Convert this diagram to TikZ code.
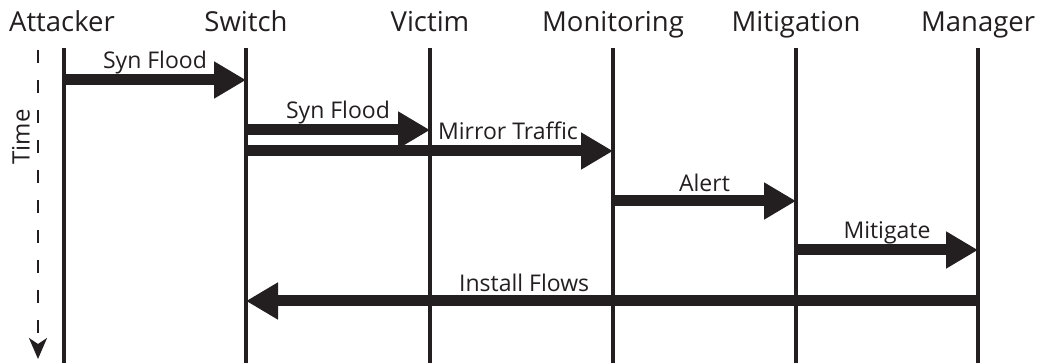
\documentclass[tikz,border=0pt]{standalone}
\usepackage{fontspec}
\setmainfont{Open Sans}
\usetikzlibrary{arrows.meta}
\definecolor{ink}{HTML}{231F20}
\begin{document}
\begin{tikzpicture}[x=1pt,y=-1pt,
  hdr/.style={font=\fontsize{27.5}{32}\selectfont, text=ink, inner sep=0pt, anchor=base},
  lbl/.style={font=\fontsize{23}{27}\selectfont, text=ink, inner sep=0pt, anchor=base, yshift=11pt},
  life/.style={draw=ink, line width=4pt},
  msg/.style={draw=ink, line width=11pt, -{Triangle[length=32pt,width=35pt]}, color=ink},
]
\useasboundingbox (0,0) rectangle (1039,363);
% headers
\node[hdr] (att) at (62,32) {Attacker};
\node[hdr] (sw)  at (246,32) {Switch};
\node[hdr] (vic) at (430,32) {Victim};
\node[hdr] (mon) at (613,32) {Monitoring};
\node[hdr] (mit) at (796,32) {Mitigation};
\node[hdr] (man) at (978,32) {Manager};
% lifelines
\foreach \n/\x in {att/64,sw/246,vic/430,mon/613,mit/796,man/978}{
  \coordinate (\n-t) at (\x,48);
  \coordinate (\n-b) at (\x,363);
  \draw[life] (\n-t) -- (\n-b);
}
% time axis
\coordinate (tt) at (38,50);
\coordinate (tb) at (38,359);
\draw[draw=ink, line width=2.5pt, dash pattern=on 13pt off 17pt, -{Stealth[length=21pt,width=18pt,inset=6pt]}] (tt) -- (tb);
\node[font=\fontsize{24}{28}\selectfont, text=ink, inner sep=0pt, rotate=90, anchor=center] (time) at (21,137) {Time};
% messages
\draw[msg] (att-t |- 0,80) -- (sw-t |- 0,80) node[lbl, midway] (m1) {Syn Flood};
\draw[msg] (sw-t |- 0,130) -- (vic-t |- 0,130) node[lbl, midway] (m2) {Syn Flood};
\draw[msg] (sw-t |- 0,151) -- (mon-t |- 0,151) node[lbl, pos=0.714] (m3) {Mirror Traffic};
\draw[msg] (mon-t |- 0,201) -- (mit-t |- 0,201) node[lbl, midway, yshift=-2pt] (m4) {Alert};
\draw[msg] (mit-t |- 0,250) -- (man-t |- 0,250) node[lbl, midway] (m5) {Mitigate};
\draw[msg] (man-t |- 0,301) -- (sw-t |- 0,301) node[lbl, pos=0.62, yshift=-2pt] (m6) {Install Flows};
\end{tikzpicture}
\end{document}
